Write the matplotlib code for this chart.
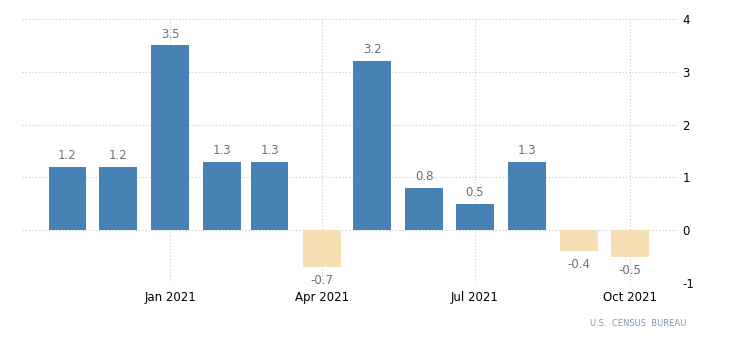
import matplotlib
matplotlib.use("Agg")
import matplotlib.pyplot as plt
import matplotlib.dates as mdates
import numpy as np
import datetime as dt

plt.rcParams["axes.unicode_minus"] = False

# Monthly percent change, Nov 2020 - Oct 2021
months = ["2020-11", "2020-12", "2021-01", "2021-02", "2021-03", "2021-04",
          "2021-05", "2021-06", "2021-07", "2021-08", "2021-09", "2021-10"]
values = [1.2, 1.2, 3.5, 1.3, 1.3, -0.7, 3.2, 0.8, 0.5, 1.3, -0.4, -0.5]
tick_months = ["2021-01", "2021-04", "2021-07", "2021-10"]
tick_labels = ["Jan 2021", "Apr 2021", "Jul 2021", "Oct 2021"]
y_ticks = [-1, 0, 1, 2, 3, 4]
source = "U.S.  CENSUS  BUREAU"

pos_color = "#4682b4"
neg_color = "#f5deb3"

def to_date(s):
    y, m = s.split("-")
    return dt.date(int(y), int(m), 1)

dates = [to_date(m) for m in months]
xnum = mdates.date2num(dates)

fig = plt.figure(figsize=(7.3, 3.46), dpi=100)
ax = fig.add_axes([22 / 730, 63 / 346, 655 / 730, 264 / 346])

colors = [pos_color if v >= 0 else neg_color for v in values]
ax.bar(xnum, values, width=22.5, color=colors, zorder=2)

for x, v in zip(xnum, values):
    if v >= 0:
        ax.annotate(f"{v:.1f}", (x, v), xytext=(0, 3.5), textcoords="offset points",
                    ha="center", va="bottom", fontsize=8.5, color="#707070", zorder=3)
    else:
        ax.annotate(f"{v:.1f}", (x, v), xytext=(0, -5), textcoords="offset points",
                    ha="center", va="top", fontsize=8.5, color="#707070", zorder=3)

ax.set_xlim(mdates.date2num(dt.date(2020, 10, 5)), mdates.date2num(dt.date(2021, 10, 29)))
ax.set_ylim(-1, 4)

ax.set_xticks(mdates.date2num([to_date(m) for m in tick_months]))
ax.set_xticklabels(tick_labels)
ax.set_yticks(y_ticks)
ax.yaxis.tick_right()

ax.grid(True, linestyle=(0, (1, 2)), color="#c8c8c8", linewidth=0.8, zorder=0)
ax.set_axisbelow(True)
for s in ax.spines.values():
    s.set_visible(False)
ax.tick_params(axis="both", length=0, labelsize=8.5, colors="black")
ax.tick_params(axis="y", pad=4)
ax.tick_params(axis="x", pad=6)

fig.text(686 / 730, 1 - 324 / 346, source, ha="right", va="center",
         fontsize=6, color="#7f98ad")

fig.savefig("out.png", dpi=100)
